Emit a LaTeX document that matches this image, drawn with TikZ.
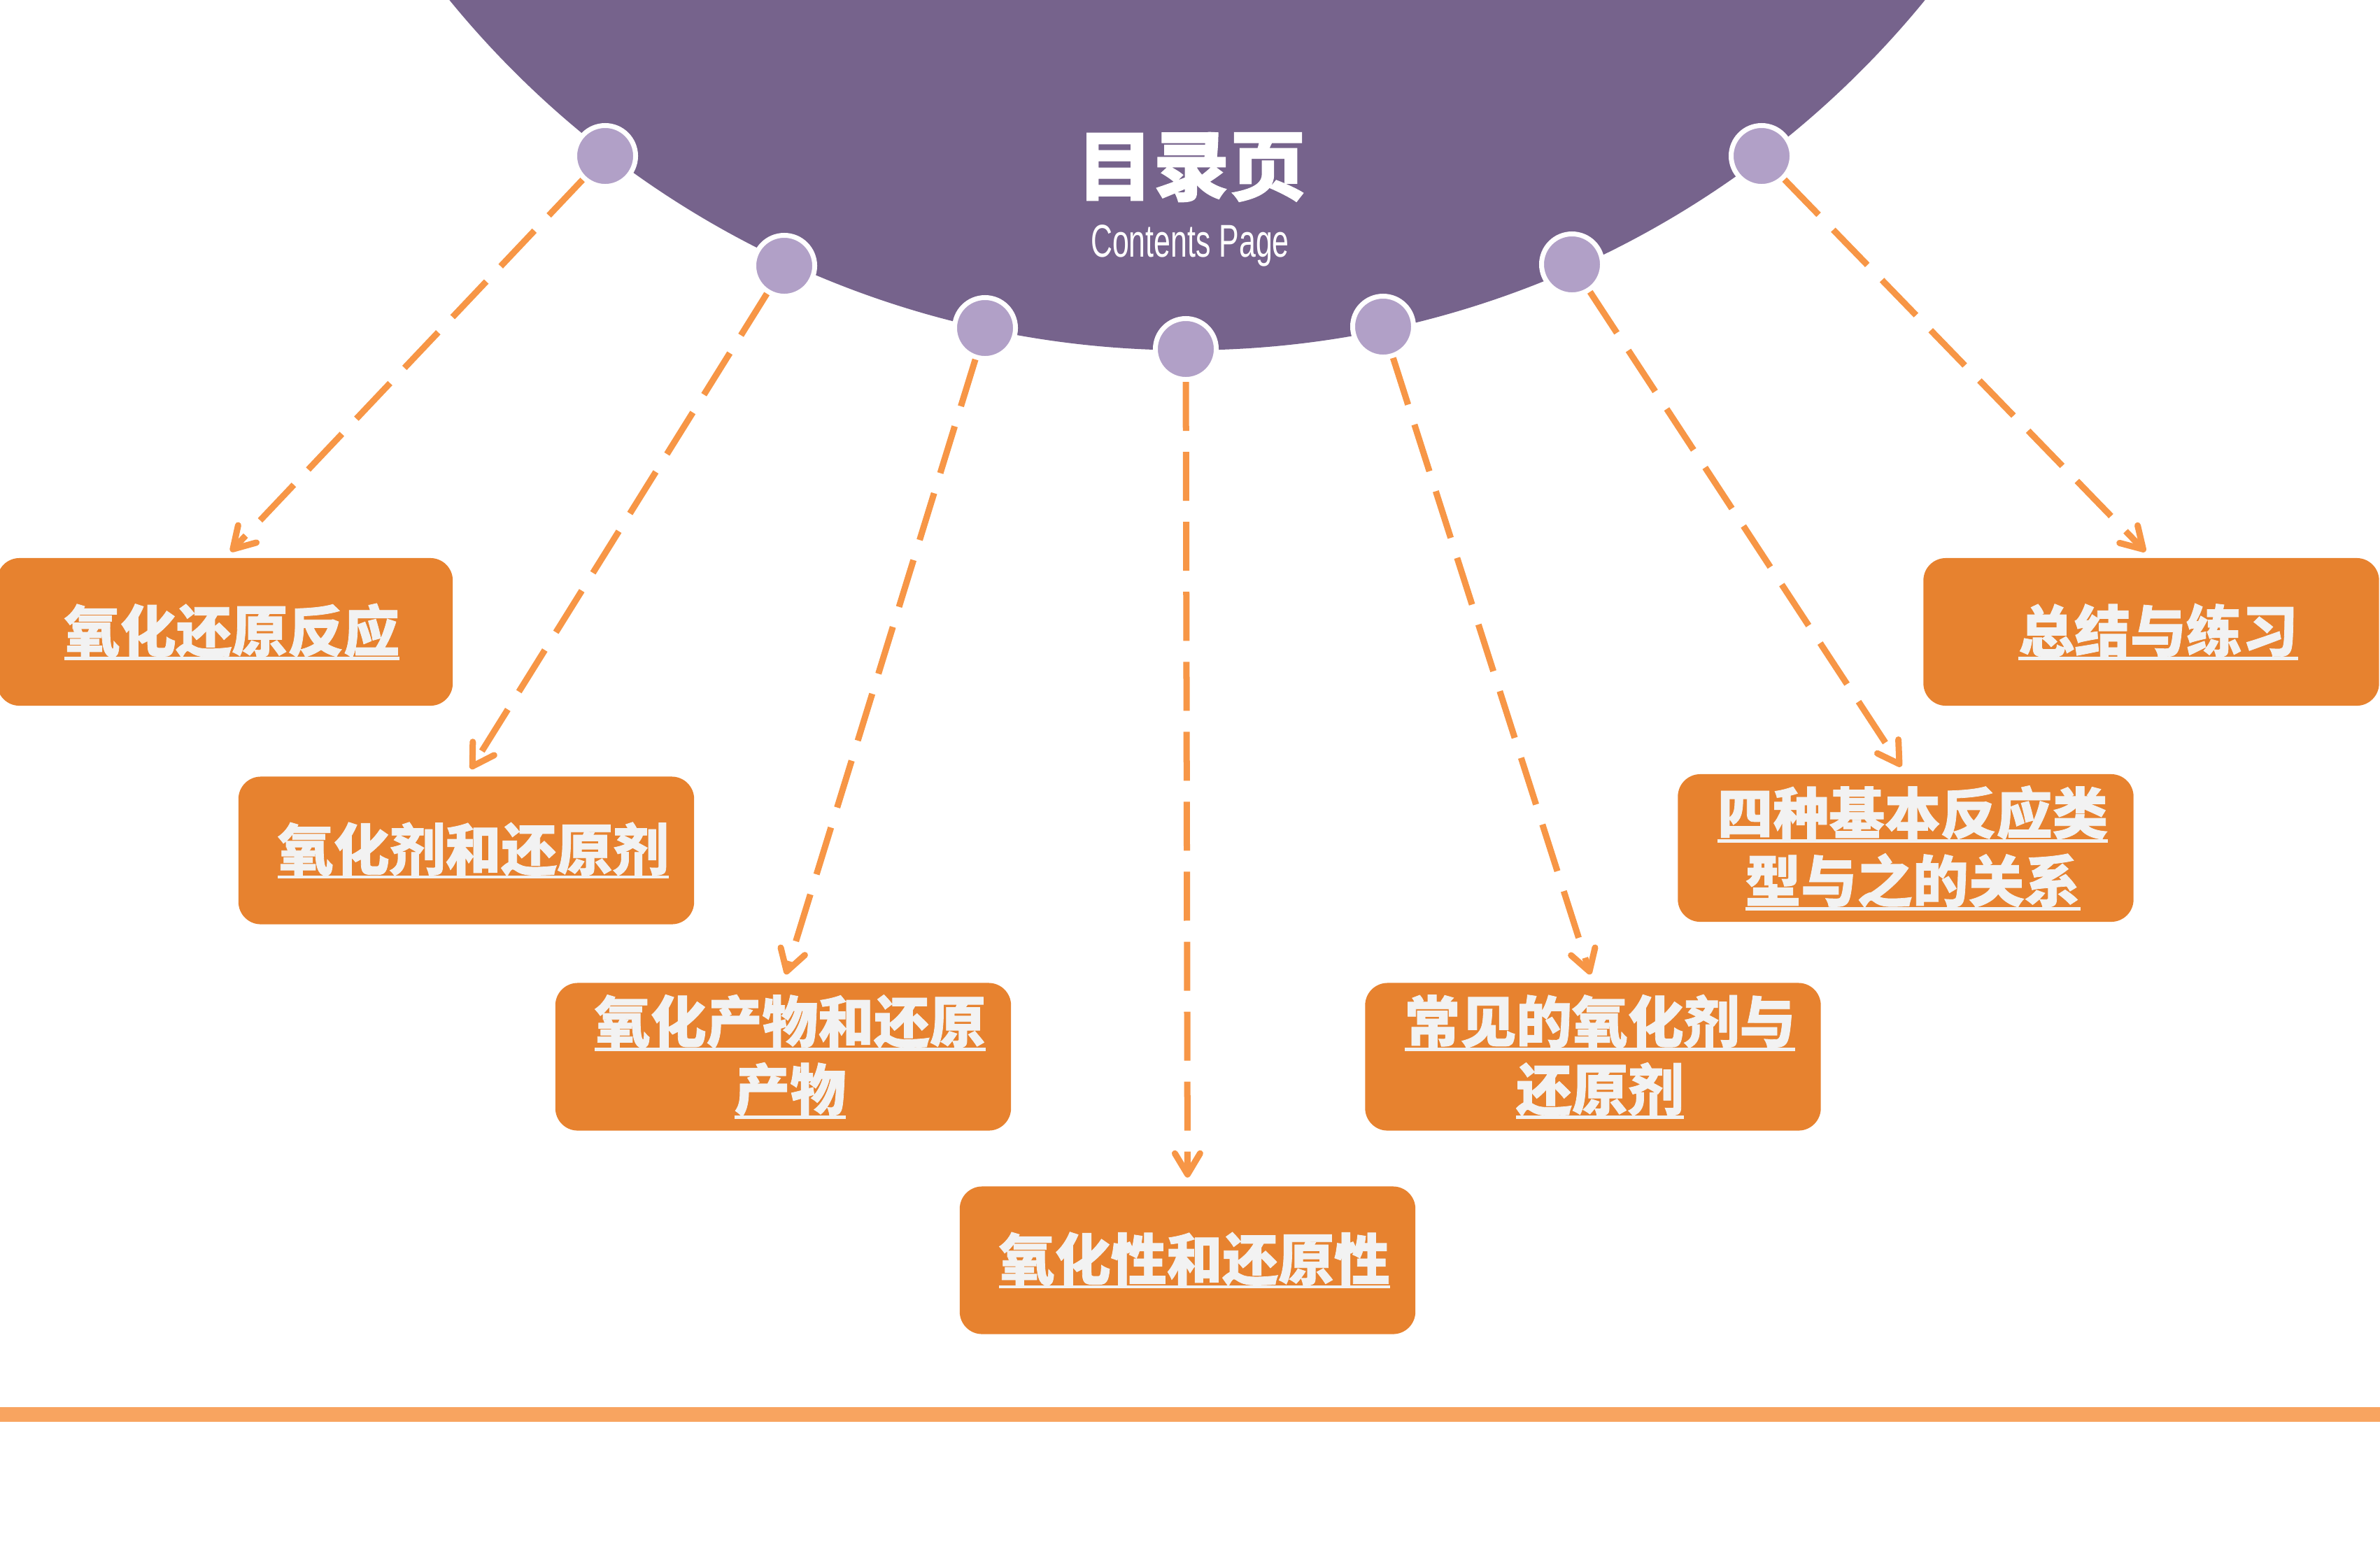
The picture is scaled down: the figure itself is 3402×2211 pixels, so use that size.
\documentclass[tikz,border=0pt]{standalone}
\usepackage{fontspec}
\usepackage{graphicx}
\usetikzlibrary{arrows.meta}
\newfontfamily\cjkfont[BoldFeatures={FakeBold=1}]{Noto Sans CJK SC}
\newfontfamily\enfont{Liberation Sans}
\definecolor{purp}{HTML}{76638C}
\definecolor{dotc}{HTML}{B1A0C7}
\definecolor{boxor}{HTML}{E7822F}
\definecolor{arrowor}{HTML}{F79646}
\definecolor{botline}{HTML}{F8A460}
\definecolor{txt}{HTML}{F2F2F2}
\newcommand\myul[1]{\hspace*{0.2cm}\setbox0\hbox{#1}\rlap{\rule[-0.15em]{\wd0}{0.06em}}\box0}
\tikzset{
  itembox/.style={fill=boxor, rounded corners=0.32cm, minimum width=6.51cm,
    minimum height=2.11cm, inner sep=0pt, text=txt, align=center,
    font=\cjkfont\bfseries\fontsize{22.7}{27.6}\selectfont},
  dotnode/.style={circle, fill=dotc, draw=white, line width=0.07cm,
    minimum size=0.87cm, inner sep=0pt},
  conn/.style={draw=arrowor, line width=0.09cm, dash pattern=on 0.7cm off 0.3cm,
    -{Straight Barb[length=0.3cm,width=0.36cm,line cap=round,line join=round]},
    shorten >=0.12cm}
}
\begin{document}
\begin{tikzpicture}[x=0.01cm,y=-0.01cm]
\useasboundingbox (0,0) rectangle (3402,2211);
\fill[white] (0,0) rectangle (3402,2211);
% purple half disc
\begin{scope}
  \clip (0,0) rectangle (3402,2211);
  \fill[purp] (1697,-860) circle (13.60cm);
\end{scope}
% title
\node[font=\cjkfont\bfseries\fontsize{31}{31}\selectfont, text=white, inner sep=0pt] (title) at (1703,239) {目录页};
\node[font=\enfont\fontsize{18.7}{18.7}\selectfont, text=white, anchor=base, inner sep=0pt] (sub) at (1701,367) {\scalebox{0.652}[1]{Contents Page}};
% boxes
\node[itembox] (b1) at (321.5,903.5) {\myul{氧化还原反应}};
\node[itembox] (b2) at (666.5,1216) {\myul{氧化剂和还原剂}};
\node[itembox] (b3) at (1119.5,1511) {\myul{氧化产物和还原}\\\myul{产物}};
\node[itembox] (b4) at (1697.5,1802) {\myul{氧化性和还原性}};
\node[itembox] (b5) at (2277,1511) {\myul{常见的氧化剂与}\\\myul{还原剂}};
\node[itembox] (b6) at (2724,1212.5) {\myul{四种基本反应类}\\\myul{型与之的关系}};
\node[itembox] (b7) at (3075,903.5) {\myul{总结与练习}};
% dots
\node[dotnode] (d1) at (865,223) {};
\node[dotnode] (d2) at (1121,380) {};
\node[dotnode] (d3) at (1408,469) {};
\node[dotnode] (d4) at (1695,499) {};
\node[dotnode] (d5) at (1977,467) {};
\node[dotnode] (d6) at (2247,378) {};
\node[dotnode] (d7) at (2518,223) {};
% connectors
\draw[conn] (d1) -- (b1.north);
\draw[conn] (d2) -- (b2.north);
\draw[conn] (d3) -- (b3.north);
\draw[conn] (d4) -- (b4.north);
\draw[conn] (d5) -- (b5.north);
\draw[conn] (d6) -- (b6.north);
\draw[conn] (d7) -- (b7.north);
% bottom line
\draw[botline, line width=0.21cm] (0,2022) -- (3402,2022);
\end{tikzpicture}
\end{document}
